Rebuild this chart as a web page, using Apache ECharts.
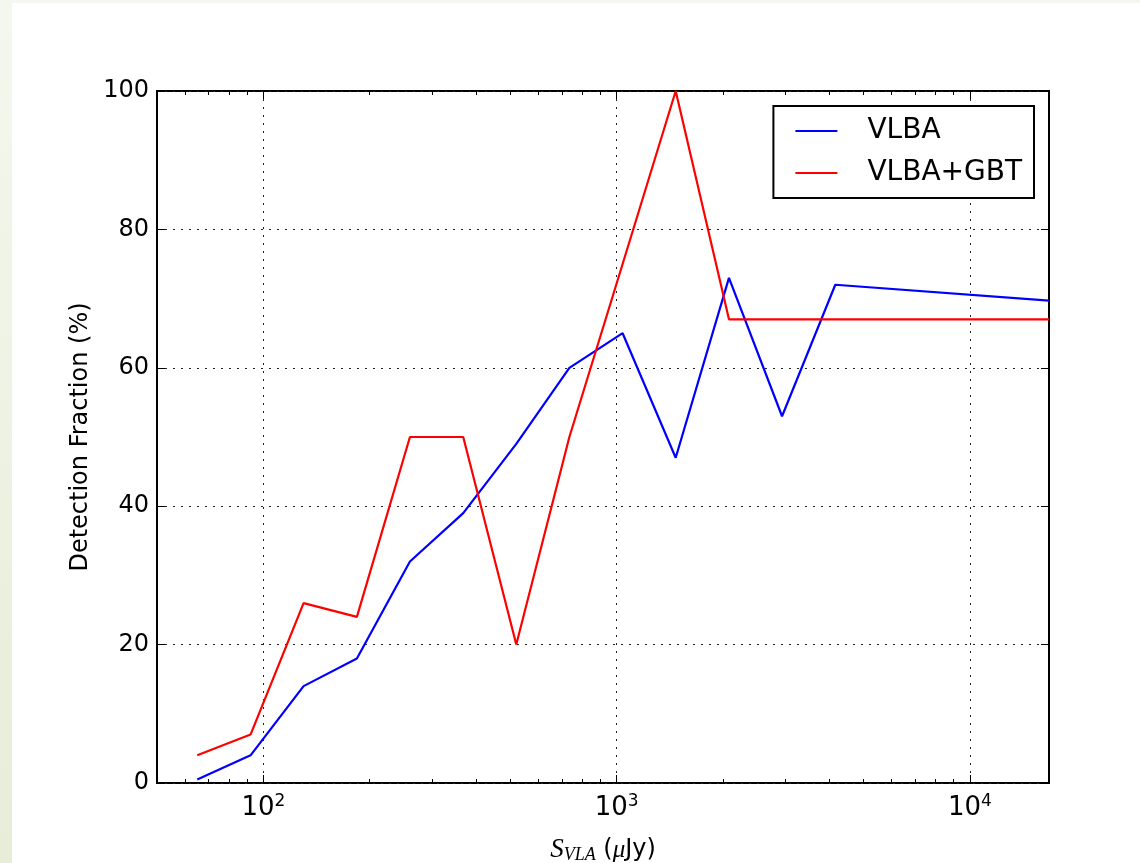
<!DOCTYPE html>
<html><head><meta charset="utf-8">
<script src="https://cdn.jsdelivr.net/npm/echarts@6/dist/echarts.min.js"></script>
<style>
html,body{margin:0;padding:0;width:1140px;height:863px;overflow:hidden;}
body{background:linear-gradient(to top,#e7edd7,#f4f7ee);}
#c{position:absolute;left:12px;top:3px;width:1128px;height:860px;background:#fff;}
</style></head><body><div id="c"></div>
<script>
// ---- data ----
const xValues = [65, 92, 130, 184, 260, 368, 520, 735, 1040, 1470, 2080, 2940, 4160, 16750];
const vlba    = [0.5, 4, 14, 18, 32, 39, 49, 60, 65, 47, 73, 53, 72, 69.7];
const vlbaGbt = [4, 7, 26, 24, 50, 50, 20, 50, 75, 100, 67, 67, 67, 67];
const seriesNames = ['VLBA', 'VLBA+GBT'];
const xMajorTicks = [100, 1000, 10000];
const xMinorTicks = [60, 70, 80, 90, 200, 300, 400, 500, 600, 700, 800, 900,
                     2000, 3000, 4000, 5000, 6000, 7000, 8000, 9000];
const yTicks = [0, 20, 40, 60, 80, 100];
const xMin = 50, xMax = 16750;

const FONT = 'DejaVu Sans';
const grid = {left: 145, top: 88, width: 892, height: 692};
const dotted = {color: '#222', width: 1, type: [2, 6]};

function logAxis(pos, ticks, len, withLabels) {
  return {
    type: 'log', logBase: 10, min: xMin, max: xMax, position: pos,
    axisLine: {show: false},
    axisTick: {show: true, inside: true, length: len, customValues: ticks,
               lineStyle: {color: '#000', width: 1}},
    axisLabel: withLabels ? {
      show: true, customValues: ticks, margin: 10, color: '#000',
      formatter: v => '{b|10}{s|' + Math.round(Math.log10(v)) + '}',
      rich: {
        b: {fontFamily: FONT, fontSize: 26, lineHeight: 30, color: '#000'},
        s: {fontFamily: FONT, fontSize: 17, lineHeight: 17, verticalAlign: 'top', color: '#000'}
      }
    } : {show: false},
    splitLine: {show: withLabels, lineStyle: dotted},
    minorTick: {show: false}, minorSplitLine: {show: false}
  };
}

const xAxes = [
  logAxis('bottom', xMajorTicks, 8, true),
  logAxis('bottom', xMinorTicks, 4, false),
  logAxis('top', xMajorTicks, 8, false),
  logAxis('top', xMinorTicks, 4, false)
];
xAxes[0].name = '{s|S}{sub|VLA}{n| (}{mu|μ}{n|Jy)}';
xAxes[0].nameLocation = 'middle';
xAxes[0].nameGap = 52;
xAxes[0].nameTextStyle = {
  rich: {
    s: {fontFamily: 'Liberation Serif', fontStyle: 'italic', fontSize: 27, lineHeight: 30, color: '#000'},
    sub: {fontFamily: 'Liberation Serif', fontStyle: 'italic', fontSize: 18, lineHeight: 30, padding: [10, 0, 0, 0], color: '#000'},
    mu: {fontFamily: 'Liberation Serif', fontStyle: 'italic', fontSize: 25, lineHeight: 30, color: '#000'},
    n: {fontFamily: FONT, fontSize: 24, lineHeight: 30, color: '#000'}
  }
};

const option = {
  animation: false,
  backgroundColor: '#fff',
  grid: Object.assign({show: true, borderColor: '#000', borderWidth: 2, backgroundColor: 'transparent',
                       containLabel: false, outerBoundsMode: 'none'}, grid),
  legend: {
    orient: 'vertical', right: 106, top: 103,
    padding: [10, 12, 10, 22], itemWidth: 42, itemHeight: 2, itemGap: 12,
    icon: 'rect', borderColor: '#000', borderWidth: 2, borderRadius: 0, backgroundColor: '#fff',
    data: seriesNames,
    formatter: n => '{g|}{t|' + n + '}',
    textStyle: {
      color: '#000', fontFamily: FONT, fontSize: 28, lineHeight: 30,
      rich: {g: {width: 25}, t: {fontFamily: FONT, fontSize: 28, lineHeight: 30, color: '#000'}}
    }
  },
  xAxis: xAxes,
  yAxis: [
    {
      type: 'value', min: 0, max: 100, interval: 20, position: 'left',
      axisLine: {show: false},
      axisTick: {show: true, inside: true, length: 8, lineStyle: {color: '#000', width: 1}},
      axisLabel: {color: '#000', fontFamily: FONT, fontSize: 24, margin: 8},
      splitLine: {show: true, lineStyle: dotted},
      name: 'Detection Fraction (%)', nameLocation: 'middle', nameGap: 64,
      nameTextStyle: {color: '#000', fontFamily: FONT, fontSize: 24}
    },
    {
      type: 'value', min: 0, max: 100, interval: 20, position: 'right',
      axisLine: {show: false},
      axisTick: {show: true, inside: true, length: 8, lineStyle: {color: '#000', width: 1}},
      axisLabel: {show: false}, splitLine: {show: false}
    }
  ],
  series: [
    {name: seriesNames[0], type: 'line', showSymbol: false, symbol: 'none',
     data: xValues.map((x, i) => [x, vlba[i]]),
     lineStyle: {color: '#0000ff', width: 2.2}, itemStyle: {color: '#0000ff'}},
    {name: seriesNames[1], type: 'line', showSymbol: false, symbol: 'none',
     data: xValues.map((x, i) => [x, vlbaGbt[i]]),
     lineStyle: {color: '#ff0000', width: 2.2}, itemStyle: {color: '#ff0000'}}
  ]
};
const chart = echarts.init(document.getElementById('c'), null, {renderer: 'canvas'});
chart.setOption(option);
</script></body></html>
